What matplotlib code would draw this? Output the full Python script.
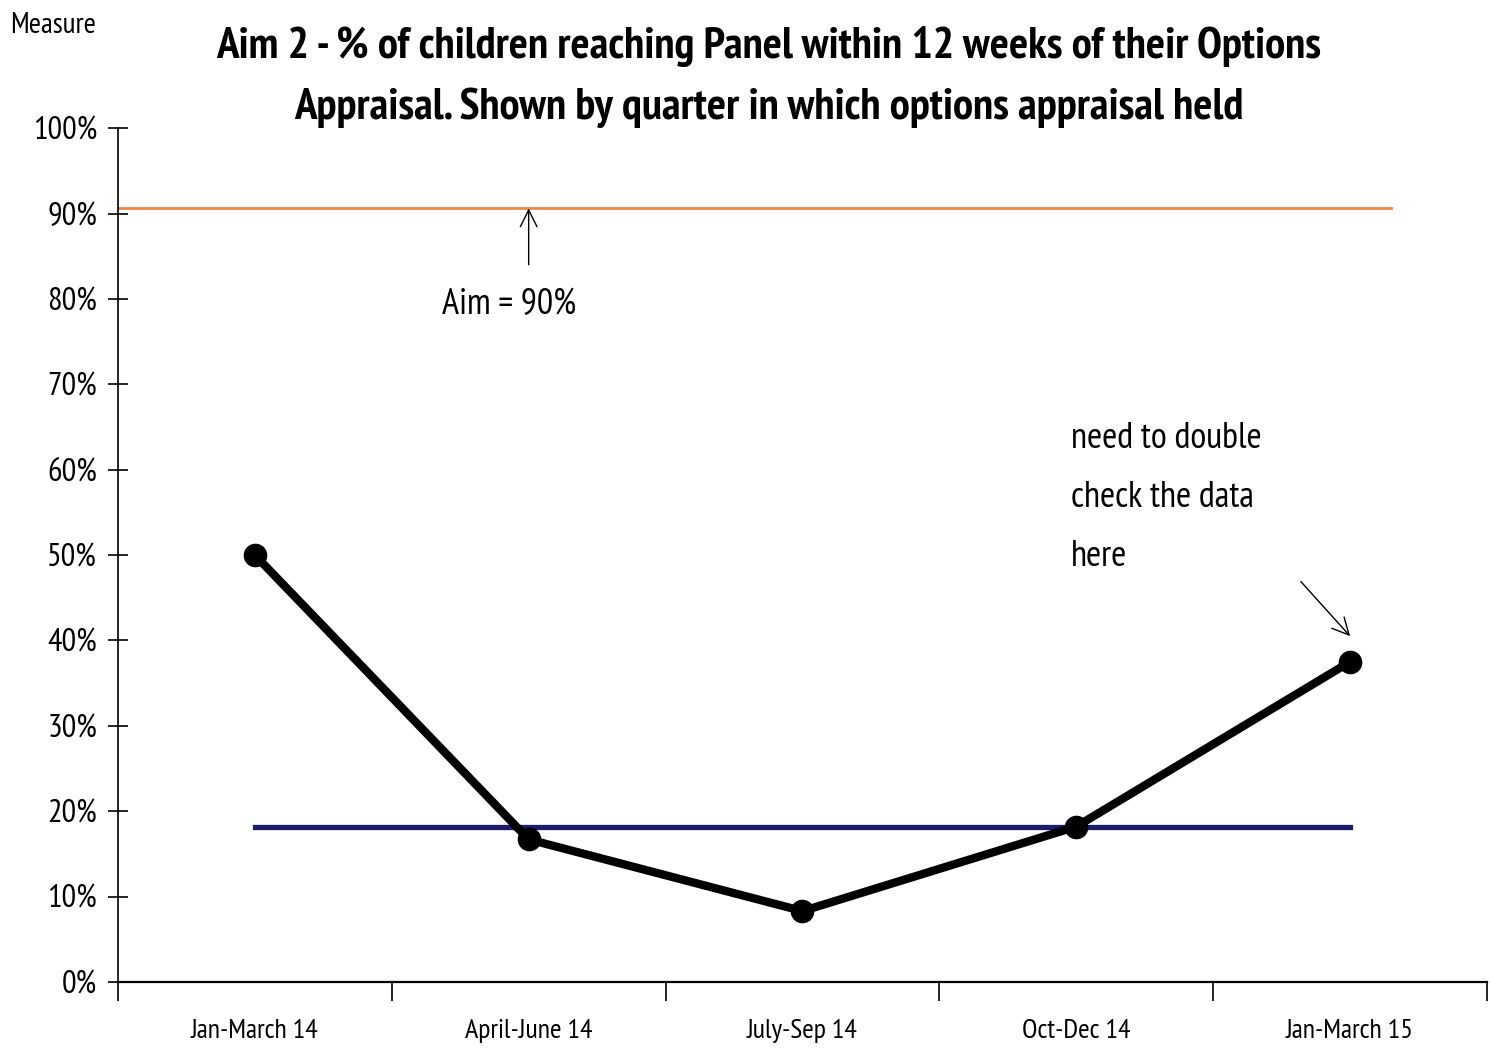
import matplotlib.pyplot as plt
from matplotlib.ticker import PercentFormatter

# data
quarters = ['Jan-March 14', 'April-June 14', 'July-Sep 14', 'Oct-Dec 14', 'Jan-March 15']
measure = [50.0, 16.7, 8.3, 18.2, 37.5]
median_line = 18.2
aim = 90.6
y_ticks = [0, 10, 20, 30, 40, 50, 60, 70, 80, 90, 100]

title = ('Aim 2 - % of children reaching Panel within 12 weeks of their Options\n'
         'Appraisal. Shown by quarter in which options appraisal held')
note = 'need to double\ncheck the data\nhere'

fam = ['PT Sans Narrow', 'Roboto Condensed', 'DejaVu Sans']
plt.rcParams['font.family'] = fam
plt.rcParams['font.stretch'] = 'condensed'

fig = plt.figure(figsize=(14.93, 10.51), dpi=100)
ax = fig.add_axes([0.079, 0.0657, 0.917, 0.8123])
renderer = fig.canvas.get_renderer()


def fit_size(s, target_px, **kw):
    # font size so that the text is target_px wide
    t = fig.text(0, 0, s, fontsize=20, **kw)
    w = t.get_window_extent(renderer).width
    t.remove()
    return 20 * target_px / w


x = list(range(len(quarters)))

# aim line
ax.plot([-0.5, 4.15], [aim, aim], color='#f0874a', lw=2, zorder=1)
# median line
ax.plot([x[0], x[-1]], [median_line, median_line], color='#1c1c6c', lw=3.8, zorder=2)
# measure
ax.plot(x, measure, color='black', lw=6, marker='o', markersize=16,
        markerfacecolor='black', zorder=3)

ax.set_xlim(-0.5, 4.5)
ax.set_ylim(0, 100)
ax.set_yticks(y_ticks)
ax.yaxis.set_major_formatter(PercentFormatter(decimals=0))
ax.set_xticks([i - 0.5 for i in range(len(quarters) + 1)])
ax.set_xticklabels([])
ax.set_xticks(x, minor=True)
ax.set_xticklabels(quarters, minor=True)

xs = fit_size('Jan-March 14', 128)
ys = fit_size('100%', 64)
ax.tick_params(axis='x', which='minor', length=0, pad=27, labelsize=xs)
ax.tick_params(axis='x', which='major', length=14, width=1.2, direction='out')
ax.tick_params(axis='y', length=14, width=1.2, direction='inout', labelsize=ys, pad=8)

ax.spines['top'].set_visible(False)
ax.spines['right'].set_visible(False)
ax.spines['left'].set_linewidth(1.2)
ax.spines['bottom'].set_linewidth(1.6)

# annotations
ax.annotate('', xy=(1.0, aim), xytext=(1.0, 84.0),
            arrowprops=dict(arrowstyle='->', color='black', lw=1,
                            mutation_scale=30, shrinkA=0, shrinkB=0))
ax.text(0.93, 79.3, 'Aim = 90%', fontsize=fit_size('Aim = 90%', 134),
        ha='center', va='center')
ax.text(2.98, 56.8, note, fontsize=fit_size('need to double', 190),
        ha='left', va='center', linespacing=2.0)
ax.annotate('', xy=(4.0, 40.5), xytext=(3.82, 46.9),
            arrowprops=dict(arrowstyle='->', color='black', lw=1,
                            mutation_scale=30, shrinkA=0, shrinkB=0))

ts = fit_size(title.split('\n')[0], 1107, fontweight='bold')
fig.text(0.515, 0.927, title, ha='center', va='center', fontsize=ts,
         fontweight='bold', linespacing=1.65)
fig.text(0.007, 0.976, 'Measure', ha='left', va='center',
         fontsize=fit_size('Measure', 85))

fig.savefig('out.png', dpi=100)
